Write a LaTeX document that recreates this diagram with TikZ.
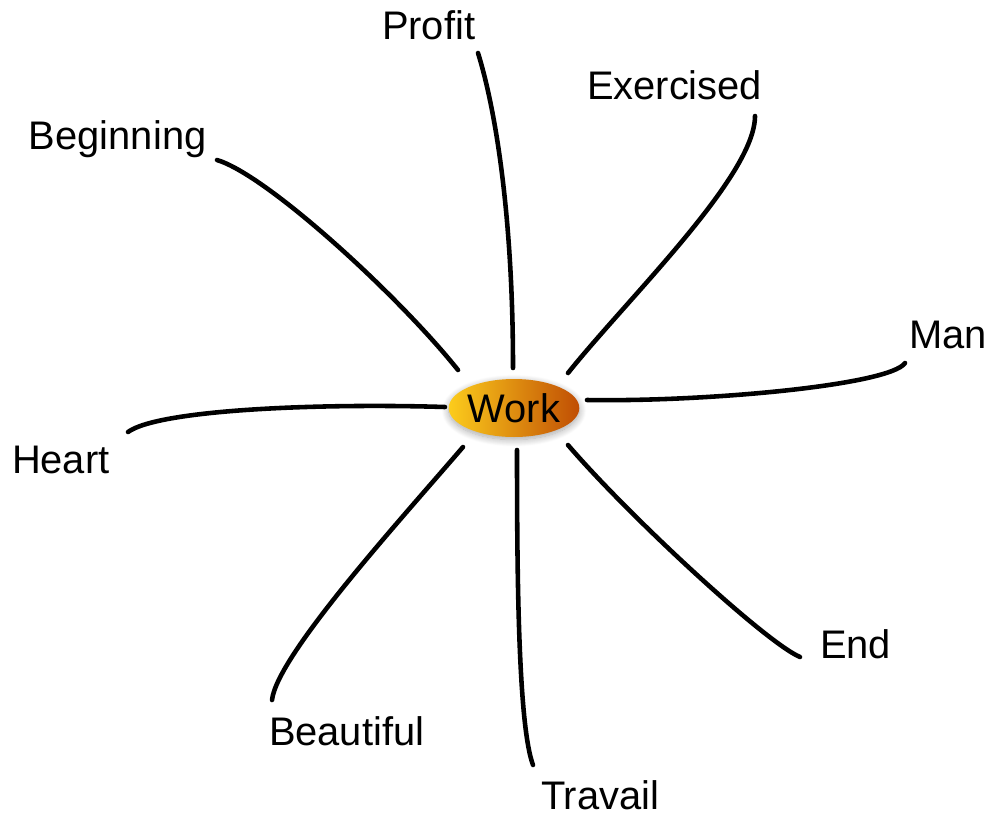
\documentclass[tikz,border=0pt]{standalone}
\usepackage{fontspec}
\setmainfont{Liberation Sans}
\usetikzlibrary{shapes.geometric,shadows.blur}
\definecolor{wyellow}{RGB}{252,204,28}
\definecolor{wmid}{RGB}{240,164,12}
\definecolor{worange}{RGB}{192,78,4}
\begin{document}
\begin{tikzpicture}[x=0.02cm,y=-0.02cm,
  lbl/.style={inner sep=0pt,outer sep=0pt,anchor=base west,font=\fontsize{22.7}{27}\selectfont},
  hub/.style={ellipse,inner sep=0pt,minimum width=2.4cm,minimum height=1.16cm,
    left color=wyellow,middle color=wmid,right color=worange,
    blur shadow={shadow xshift=0pt,shadow yshift=-1.5pt,shadow blur steps=10,shadow opacity=35,shadow blur radius=4pt},
    font=\fontsize{22.7}{27}\selectfont},
  spoke/.style={draw=black,line width=2.6pt,line cap=round}]
\useasboundingbox (0,0) rectangle (989,815);
\node[hub] (work) at (514,408) {Work};
\node[lbl] (profit) at (382,39) {Profit};
\node[lbl] (exer) at (587,99) {Exercised};
\node[lbl] (begin) at (29,149) {Beginning};
\node[lbl] (man) at (909,348) {Man};
\node[lbl] (heart) at (12,473) {Heart};
\node[lbl] (endn) at (820,658) {End};
\node[lbl] (beau) at (269,745) {Beautiful};
\node[lbl] (trav) at (541,809) {Travail};
% spokes
\draw[spoke] ([shift={(96,14)}]profit.base west) .. controls +(18,58) and +(0,-150) .. ([shift={(-1,-40)}]work.center);
\draw[spoke] ([shift={(168,17)}]exer.base west) .. controls +(0,60) and +(60,-75) .. ([shift={(54,-35)}]work.center);
\draw[spoke] ([shift={(188,11)}]begin.base west) .. controls +(50,15) and +(-60,-75) .. ([shift={(-56,-38)}]work.center);
\draw[spoke] ([shift={(-4,15)}]man.base west) .. controls +(-15,22) and +(120,2) .. ([shift={(73,-8)}]work.center);
\draw[spoke] ([shift={(116,-41)}]heart.base west) .. controls +(30,-22) and +(-130,-4) .. ([shift={(-69,-1)}]work.center);
\draw[spoke] ([shift={(-20,-1)}]endn.base west) .. controls +(-35,-15) and +(60,70) .. ([shift={(54,37)}]work.center);
\draw[spoke] ([shift={(3,-45)}]beau.base west) .. controls +(5,-45) and +(-60,70) .. ([shift={(-51,39)}]work.center);
\draw[spoke] ([shift={(-8,-44)}]trav.base west) .. controls +(-15,-40) and +(0,120) .. ([shift={(3,42)}]work.center);
\end{tikzpicture}
\end{document}
